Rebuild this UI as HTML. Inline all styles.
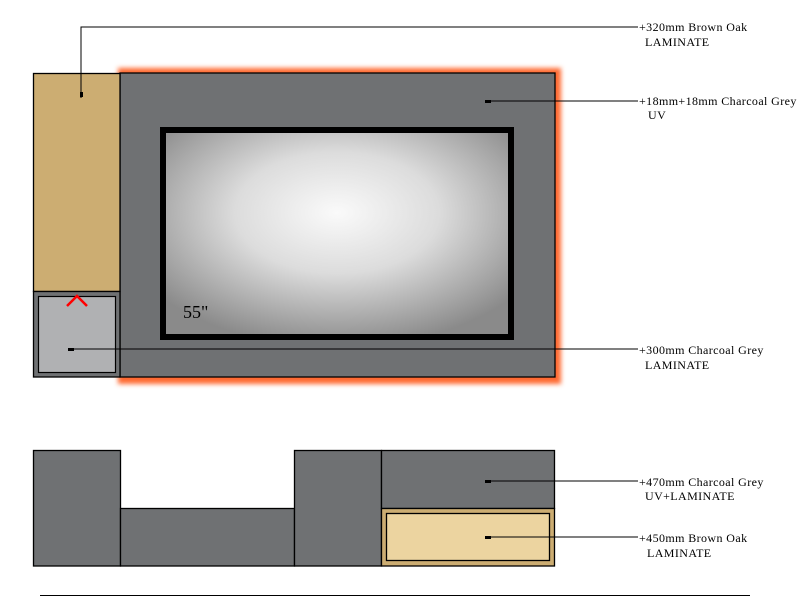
<!DOCTYPE html>
<html><head><meta charset="utf-8"><style>
html,body{margin:0;padding:0;background:#fff;width:805px;height:610px;overflow:hidden}
text{font-family:"Liberation Serif",serif;font-size:12px;letter-spacing:0.4px;fill:#000}
</style></head><body>
<svg width="805" height="610" viewBox="0 0 805 610" xmlns="http://www.w3.org/2000/svg">
<defs>
<radialGradient id="scr" cx="50%" cy="40%" r="65%">
<stop offset="0" stop-color="#fafafa"/><stop offset="0.45" stop-color="#dcdcdc"/><stop offset="1" stop-color="#8a8a8a"/>
</radialGradient>
<filter id="glow" x="-10%" y="-10%" width="120%" height="120%"><feGaussianBlur stdDeviation="2.5"/></filter>
</defs>
<rect x="118" y="68" width="443" height="316" fill="#ff6a30" filter="url(#glow)"/>
<rect x="120" y="73" width="435" height="304" fill="#6f7173" stroke="#000" stroke-width="1.3"/>
<rect x="33.5" y="73.5" width="86.5" height="218" fill="#ccad72" stroke="#000" stroke-width="1.3"/>
<rect x="33.5" y="291.5" width="86.5" height="85.5" fill="#6f7173" stroke="#000" stroke-width="1.3"/>
<rect x="38.5" y="296.5" width="77" height="76" fill="#b0b1b3" stroke="#000" stroke-width="1.2"/>
<path d="M67 306 L77 296 L87 306" fill="none" stroke="#ff0000" stroke-width="2.5"/>
<rect x="163" y="130" width="348" height="207" fill="url(#scr)" stroke="#000" stroke-width="6"/>
<text x="183" y="318" style="font-size:18px;letter-spacing:0">55"</text>
<!-- bottom -->
<g stroke="#000" stroke-width="1.3">
<rect x="33.5" y="450.5" width="87" height="115.5" fill="#6f7173"/>
<rect x="120.5" y="508.5" width="174" height="57.5" fill="#6f7173"/>
<rect x="294.5" y="450.5" width="87" height="115.5" fill="#6f7173"/>
<rect x="381.5" y="450.5" width="173" height="58" fill="#6f7173"/>
<rect x="381.5" y="508.5" width="173" height="57.5" fill="#ccad72"/>
<rect x="386.5" y="513.5" width="163" height="47" fill="#ecd4a0"/>
</g>
<!-- leaders -->
<g stroke="#000" stroke-width="1" fill="none">
<path d="M81 98 V27 H638"/>
<path d="M487 101 H638"/>
<path d="M70 349 H638"/>
<path d="M487 481 H638"/>
<path d="M487 537 H638"/>
<path d="M40 595.5 H750"/>
</g>
<g fill="#000">
<rect x="80" y="92" width="3" height="5"/>
<rect x="485" y="100" width="6" height="3"/>
<rect x="68" y="348" width="6" height="3"/>
<rect x="485" y="480" width="6" height="3"/>
<rect x="485" y="536" width="6" height="3"/>
</g>
<text x="639" y="31">+320mm Brown Oak</text>
<text x="645" y="46">LAMINATE</text>
<text x="639" y="105">+18mm+18mm Charcoal Grey</text>
<text x="648" y="119">UV</text>
<text x="639" y="354">+300mm Charcoal Grey</text>
<text x="645" y="369">LAMINATE</text>
<text x="639" y="486">+470mm Charcoal Grey</text>
<text x="645" y="500">UV+LAMINATE</text>
<text x="639" y="542">+450mm Brown Oak</text>
<text x="647" y="557">LAMINATE</text>
</svg>
</body></html>
